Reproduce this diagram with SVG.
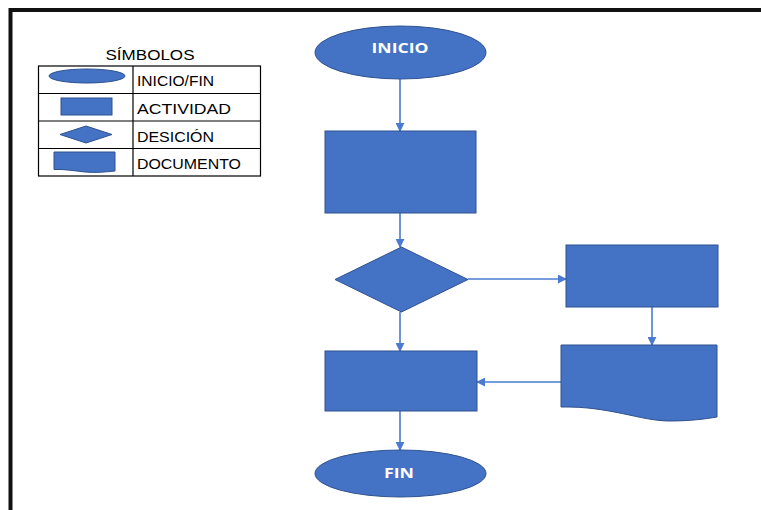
<svg xmlns="http://www.w3.org/2000/svg" width="761" height="510" viewBox="0 0 761 510">
  <style>
    .shape { fill: #4472C4; stroke: #2F528F; stroke-width: 1; }
    .conn { fill: none; stroke: #4A7BD0; stroke-width: 1.6; marker-end: url(#arrow); }
    .grid { fill: none; stroke: #000; stroke-width: 1.2; }
    .legend { font-family: "Liberation Sans", Arial, sans-serif; font-size: 14px; fill: #000; }
    .label { font-family: "Open Sans", "Liberation Sans", sans-serif; font-weight: bold; font-size: 14px; fill: #fff; }
  </style>
  <defs>
    <marker id="arrow" viewBox="0 0 10 10" refX="9" refY="5" markerWidth="9" markerHeight="9" markerUnits="userSpaceOnUse" orient="auto">
      <path d="M0,0 L10,5 L0,10 Z" fill="#4A7BD0"/>
    </marker>
  </defs>

  <rect width="761" height="510" fill="#fff"/>
  <!-- page frame (top and left edges) -->
  <path d="M10.5,510 V10 H761" fill="none" stroke="#111" stroke-width="4"/>

  <!-- symbol legend -->
  <g id="legend">
    <text class="legend" x="150" y="60" text-anchor="middle" textLength="89" lengthAdjust="spacingAndGlyphs">SÍMBOLOS</text>
    <rect class="grid" x="38.5" y="66" width="222" height="110"/>
    <line class="grid" x1="133" y1="66" x2="133" y2="176"/>
    <line class="grid" x1="38.5" y1="93.5" x2="260.5" y2="93.5"/>
    <line class="grid" x1="38.5" y1="121" x2="260.5" y2="121"/>
    <line class="grid" x1="38.5" y1="148.5" x2="260.5" y2="148.5"/>
    <ellipse class="shape" cx="87" cy="76" rx="38" ry="7"/>
    <rect class="shape" x="61" y="98" width="51" height="17"/>
    <path class="shape" d="M60,134.5 L86,126 L112,134.5 L86,143 Z"/>
    <path class="shape" d="M54,152 H115 V171 C105,172 95,173 85,172 C75,171 65,169 54,169.5 Z"/>
    <text class="legend" x="137" y="86" textLength="77" lengthAdjust="spacingAndGlyphs">INICIO/FIN</text>
    <text class="legend" x="137" y="114" textLength="94" lengthAdjust="spacingAndGlyphs">ACTIVIDAD</text>
    <text class="legend" x="137" y="142" textLength="77" lengthAdjust="spacingAndGlyphs">DESICIÓN</text>
    <text class="legend" x="137" y="169" textLength="104" lengthAdjust="spacingAndGlyphs">DOCUMENTO</text>
  </g>

  <!-- connectors -->
  <g id="connectors">
    <line class="conn" x1="400" y1="79" x2="400" y2="131"/>
    <line class="conn" x1="400" y1="213" x2="400" y2="247"/>
    <line class="conn" x1="468" y1="279" x2="566" y2="279"/>
    <line class="conn" x1="652" y1="307" x2="652" y2="345"/>
    <line class="conn" x1="561" y1="382" x2="477" y2="382"/>
    <line class="conn" x1="400" y1="312" x2="400" y2="351"/>
    <line class="conn" x1="400" y1="411" x2="400" y2="450"/>
  </g>

  <!-- flowchart nodes -->
  <g id="inicio">
    <ellipse class="shape" cx="400.5" cy="52.5" rx="85.5" ry="26.5"/>
    <text class="label" x="400" y="53" text-anchor="middle" textLength="57" lengthAdjust="spacingAndGlyphs">INICIO</text>
  </g>
  <g id="actividad1">
    <rect class="shape" x="325" y="131" width="151" height="82"/>
  </g>
  <g id="decision">
    <path class="shape" d="M335,279.5 L401.5,247 L468,279.5 L401.5,312 Z"/>
  </g>
  <g id="actividad2">
    <rect class="shape" x="566" y="245" width="152" height="62"/>
  </g>
  <g id="documento">
    <path class="shape" d="M561,345 H717 V417 C705,419 690,421 670,421 C640,421 610,406 561,407 Z"/>
  </g>
  <g id="actividad3">
    <rect class="shape" x="325" y="351" width="152" height="60"/>
  </g>
  <g id="fin">
    <ellipse class="shape" cx="400.5" cy="473.5" rx="85.5" ry="23.5"/>
    <text class="label" x="399" y="478" text-anchor="middle" textLength="30" lengthAdjust="spacingAndGlyphs">FIN</text>
  </g>
</svg>
